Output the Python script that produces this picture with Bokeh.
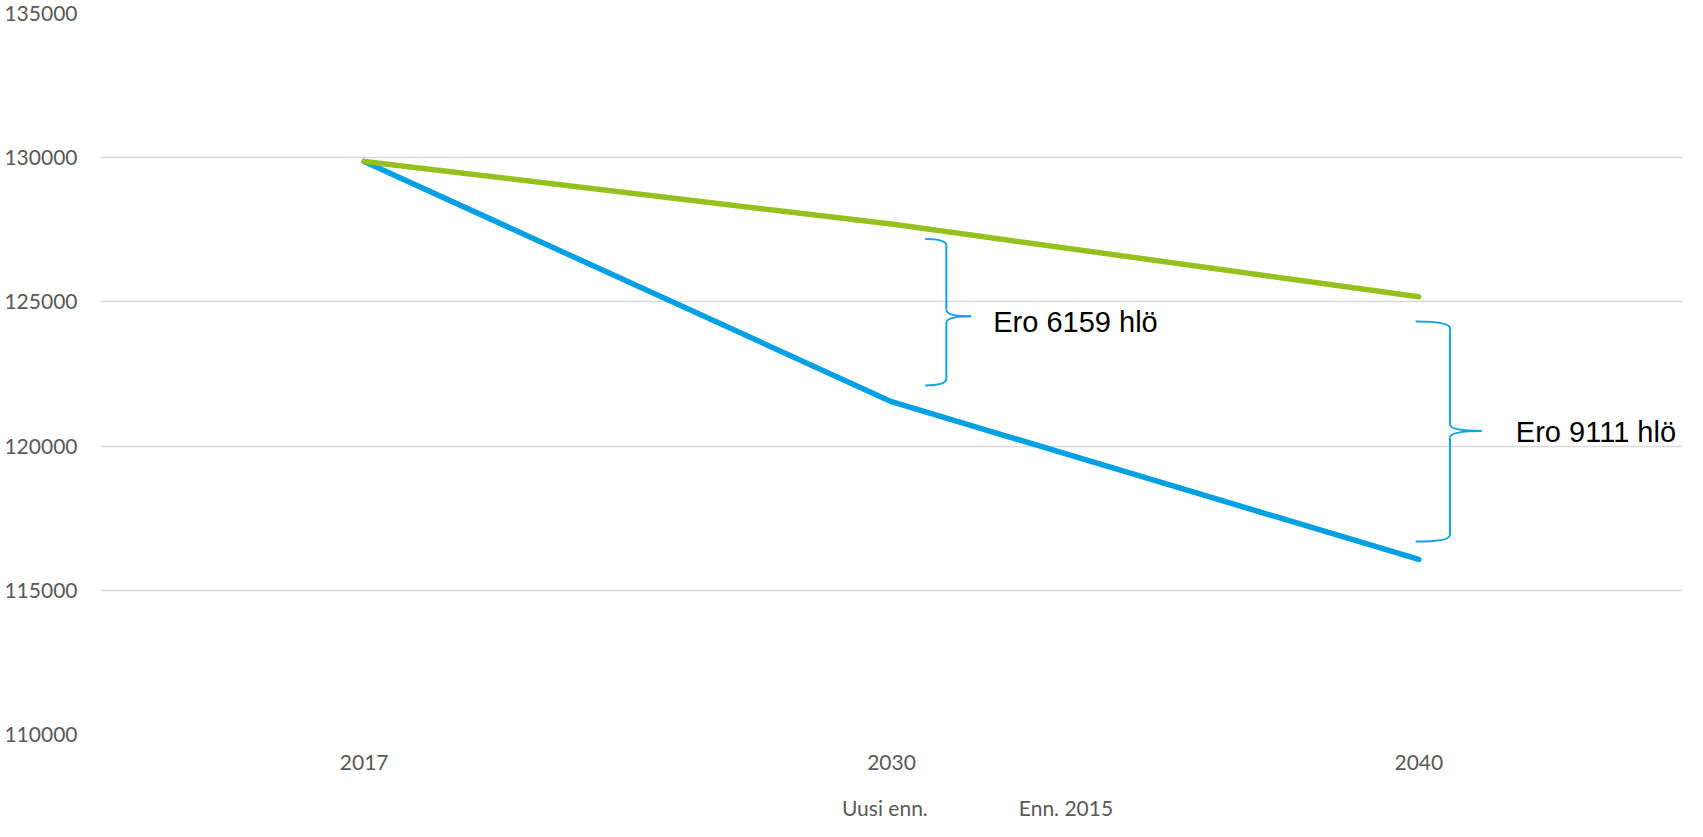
from bokeh.plotting import figure
from bokeh.layouts import column
from bokeh.models import Range1d, FixedTicker, NumeralTickFormatter, Legend, LegendItem, ColumnDataSource
from bokeh.embed import file_html
from bokeh.resources import INLINE
from bokeh.core.properties import value

years = ["2017", "2030", "2040"]
uusi = [129870, 121541, 116069]
enn2015 = [129870, 127700, 125180]
series_names = ["Uusi enn.", "Enn. 2015"]
diff_labels = ["Ero 6159 hlö", "Ero 9111 hlö"]

BLUE = "#00A0E3"
GREEN = "#95C11F"
BRACE = "#12A3E6"
GRAY = "#595959"
FONT = "Lato"

xs = list(range(len(years)))

p = figure(width=1687, height=793, output_backend="svg", toolbar_location=None,
           x_range=Range1d(-0.5, len(years) - 0.5), y_range=Range1d(110000, 135000),
           min_border_left=100, min_border_right=5, min_border_top=13, min_border_bottom=59)
p.outline_line_color = None
p.background_fill_color = "white"

# axes
p.yaxis.ticker = FixedTicker(ticks=list(range(110000, 135001, 5000)))
p.yaxis.formatter = NumeralTickFormatter(format="0")
p.xaxis.ticker = FixedTicker(ticks=xs)
p.xaxis.major_label_overrides = {i: y for i, y in zip(xs, years)}
for ax in (p.xaxis, p.yaxis):
    ax.axis_line_color = None
    ax.major_tick_line_color = None
    ax.minor_tick_line_color = None
    ax.major_tick_out = 0
    ax.major_tick_in = 0
    ax.minor_tick_out = 0
    ax.minor_tick_in = 0
    ax.major_label_text_font = FONT
    ax.major_label_text_font_size = "21px"
    ax.major_label_text_color = GRAY
p.yaxis.major_label_standoff = 23
p.xaxis.major_label_standoff = 20
p.xgrid.grid_line_color = None
p.ygrid.grid_line_color = "#D9D9D9"
p.ygrid.grid_line_width = 1.3

# series
p.line(xs, uusi, line_color=BLUE, line_width=5.5, line_cap="round", line_join="round")
p.line(xs, enn2015, line_color=GREEN, line_width=5.5, line_cap="round", line_join="round")

# braces (positions derived from data values)
def brace(i, dx0, dxv, dxt, top, bot, mid, r):
    x0, xv, xt = i + dx0, i + dxv, i + dxt
    p.quadratic(x0=[x0, xv, xv, x0], y0=[top, mid + r, mid - r, bot],
                x1=[xv, xt, xt, xv], y1=[top - r, mid, mid, bot + r],
                cx=[xv, xv, xv, xv], cy=[top, mid, mid, bot],
                line_color=BRACE, line_width=2)
    p.segment(x0=[xv, xv], y0=[top - r, mid - r], x1=[xv, xv], y1=[mid + r, bot + r],
              line_color=BRACE, line_width=2)

R = 230
# 2030
top1 = enn2015[1] - 520
bot1 = uusi[1] + 560
brace(1, 0.064, 0.104, 0.151, top1, bot1, 124500, R)
# 2040
top2 = enn2015[2] - 860
bot2 = uusi[2] + 620
brace(2, -0.006, 0.059, 0.119, top2, bot2, 120524, R)

src = ColumnDataSource(dict(x=[1 + 0.193, 2 + 0.184], y=[124286, 120490], t=diff_labels))
p.text(x="x", y="y", text="t", source=src, text_font=value("Liberation Sans"),
       text_font_size="29px", text_color="black", text_baseline="alphabetic", text_align="left")

# legend strip below the chart
pl = figure(width=1687, height=28, output_backend="svg", toolbar_location=None,
            x_range=Range1d(0, 1), y_range=Range1d(0, 1),
            x_axis_type=None, y_axis_type=None, min_border=0)
pl.outline_line_color = None
pl.grid.visible = False
lb = pl.line(x=[], y=[], line_color=BLUE, line_width=5.5, line_cap="round")
lg = pl.line(x=[], y=[], line_color=GREEN, line_width=5.5, line_cap="round")
legend = Legend(items=[LegendItem(label=series_names[0], renderers=[lb]),
                       LegendItem(label=series_names[1], renderers=[lg])],
                orientation="horizontal", location=(684, 1),
                glyph_width=53, label_standoff=5, spacing=33,
                padding=0, margin=0,
                border_line_color=None, background_fill_alpha=0,
                label_text_font=FONT, label_text_font_size="21px", label_text_color=GRAY)
pl.add_layout(legend, "center")

layout = column(p, pl, spacing=0)
open("out.html", "w").write(file_html(layout, INLINE))
